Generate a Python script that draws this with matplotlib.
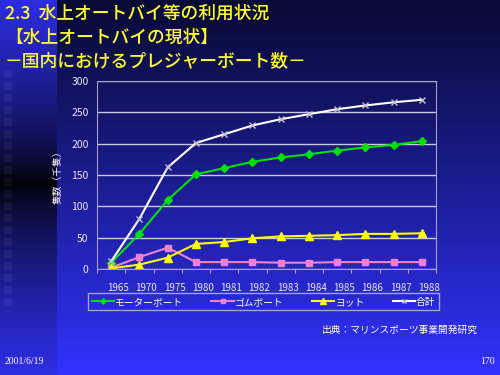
import numpy as np
import matplotlib
matplotlib.use('Agg')
import matplotlib.pyplot as plt
from matplotlib.transforms import ScaledTranslation

plt.rcParams['font.family'] = ['Noto Sans CJK JP', 'DejaVu Sans']

years = ['1965', '1970', '1975', '1980', '1981', '1982', '1983',
         '1984', '1985', '1986', '1987', '1988']
motor = [10, 56, 110, 151, 161, 171, 178, 183, 189, 194, 198, 204]
rubber = [2, 19, 34, 11, 11, 11, 10, 10, 11, 11, 11, 11]
yacht = [1, 7, 18, 40, 43, 49, 52, 53, 54, 56, 56, 57]
total = [12, 80, 162, 201, 215, 229, 239, 247, 255, 261, 266, 270]
labels = ['モーターボート', 'ゴムボート', 'ヨット', '合計']

fig = plt.figure(figsize=(5, 3.75), dpi=100)

# slide background (gradient + left decoration strip)
H, W = 375, 500
t = np.linspace(0, 1, H)[:, None]
top = np.array([10, 10, 55]) / 255
bot = np.array([50, 50, 255]) / 255
bg = top + (bot - top) * (t ** 1.1)[..., None]
bg = np.repeat(bg, W, axis=1)
d = np.abs(np.linspace(0, 1, H) - 0.49) / 0.49
strip = np.array([45, 45, 225]) / 255 * np.clip(d, 0, 1)[:, None] ** 0.7
bg[:, :57, :] = strip[:, None, :]
for y0 in range(70, 310, 12):
    bg[y0:y0 + 8, 4:12, :] = np.clip(bg[y0:y0 + 8, 4:12, :] + 0.05, 0, 1)
bga = fig.add_axes([0, 0, 1, 1], zorder=-10)
bga.imshow(bg, aspect='auto', extent=[0, 1, 0, 1])
bga.axis('off')

# titles
yel = '#ffff33'
fig.text(0.01, 1 - 14 / 375, '2.3  水上オートバイ等の利用状況', color=yel, fontsize=12.8,
         va='center', weight='medium')
fig.text(0.01, 1 - 38 / 375, '【水上オートバイの現状】', color=yel, fontsize=12.8,
         va='center', weight='medium')
fig.text(0.01, 1 - 61 / 375, '－国内におけるプレジャーボート数－', color=yel, fontsize=12.8,
         va='center', weight='medium')

ax = fig.add_axes([0.194, 0.2827, 0.678, 0.5013])
ax.patch.set_alpha(0)
x = np.arange(len(years))
l1, = ax.plot(x, motor, color='#00e000', marker='D', ms=4, lw=1.5)
l2, = ax.plot(x, rubber, color='#f080d0', marker='s', ms=5, lw=1.5)
l3, = ax.plot(x, yacht, color='#ffff00', marker='^', ms=6, lw=1.5)
l4, = ax.plot(x, total, color='#ffffff', marker='x', ms=5, mec='#c0c0d0', lw=1.5)

ax.set_xlim(-0.5, len(years) - 0.5)
ax.set_ylim(0, 300)
ax.set_yticks(range(0, 301, 50))
ax.yaxis.grid(True, color='#c8c8e8', lw=1)
ax.set_axisbelow(True)
for s in ax.spines.values():
    s.set_color('#a0a0c8')
ax.set_xticks(np.arange(-0.5, len(years)), minor=False)
ax.set_xticklabels([])
ax.set_xticks(x, minor=True)
ax.set_xticklabels(years, minor=True)
ax.tick_params(axis='x', which='major', length=3, color='#a0a0c8')
ax.tick_params(axis='x', which='minor', length=0, pad=10, labelsize=7, labelcolor='#e8e8ff')
ax.tick_params(axis='y', length=0, labelsize=7.5, labelcolor='#e8e8ff', pad=6)
for lab in ax.get_xticklabels(minor=True):
    lab.set_transform(lab.get_transform() + ScaledTranslation(7 / 100, 0, fig.dpi_scale_trans))
ax.set_ylabel('隻数（千隻）', color='#ffffff', fontsize=7, labelpad=6)

leg = fig.legend([l1, l2, l3, l4], labels, loc='center', bbox_to_anchor=(0.527, 0.195),
                 ncol=4, fontsize=7, frameon=True, fancybox=False, handlelength=2.3,
                 columnspacing=2.9, handletextpad=0.1, borderpad=0.35, markerscale=0.7)
leg.get_frame().set_facecolor('none')
leg.get_frame().set_edgecolor('#c0c0e0')
for tx in leg.get_texts():
    tx.set_color('#ffffff')

fig.text(0.956, 1 - 330 / 375, '出典：マリンスポーツ事業開発研究', color='#ffffff', fontsize=7,
         ha='right', va='center')
fig.text(0.01, 1 - 362 / 375, '2001/6/19', color='#ffffff', fontsize=7,
         family='Liberation Serif', va='center')
fig.text(0.99, 1 - 362 / 375, '170', color='#ffffff', fontsize=7,
         family='Liberation Serif', va='center', ha='right')

fig.savefig('out.png', dpi=100)
